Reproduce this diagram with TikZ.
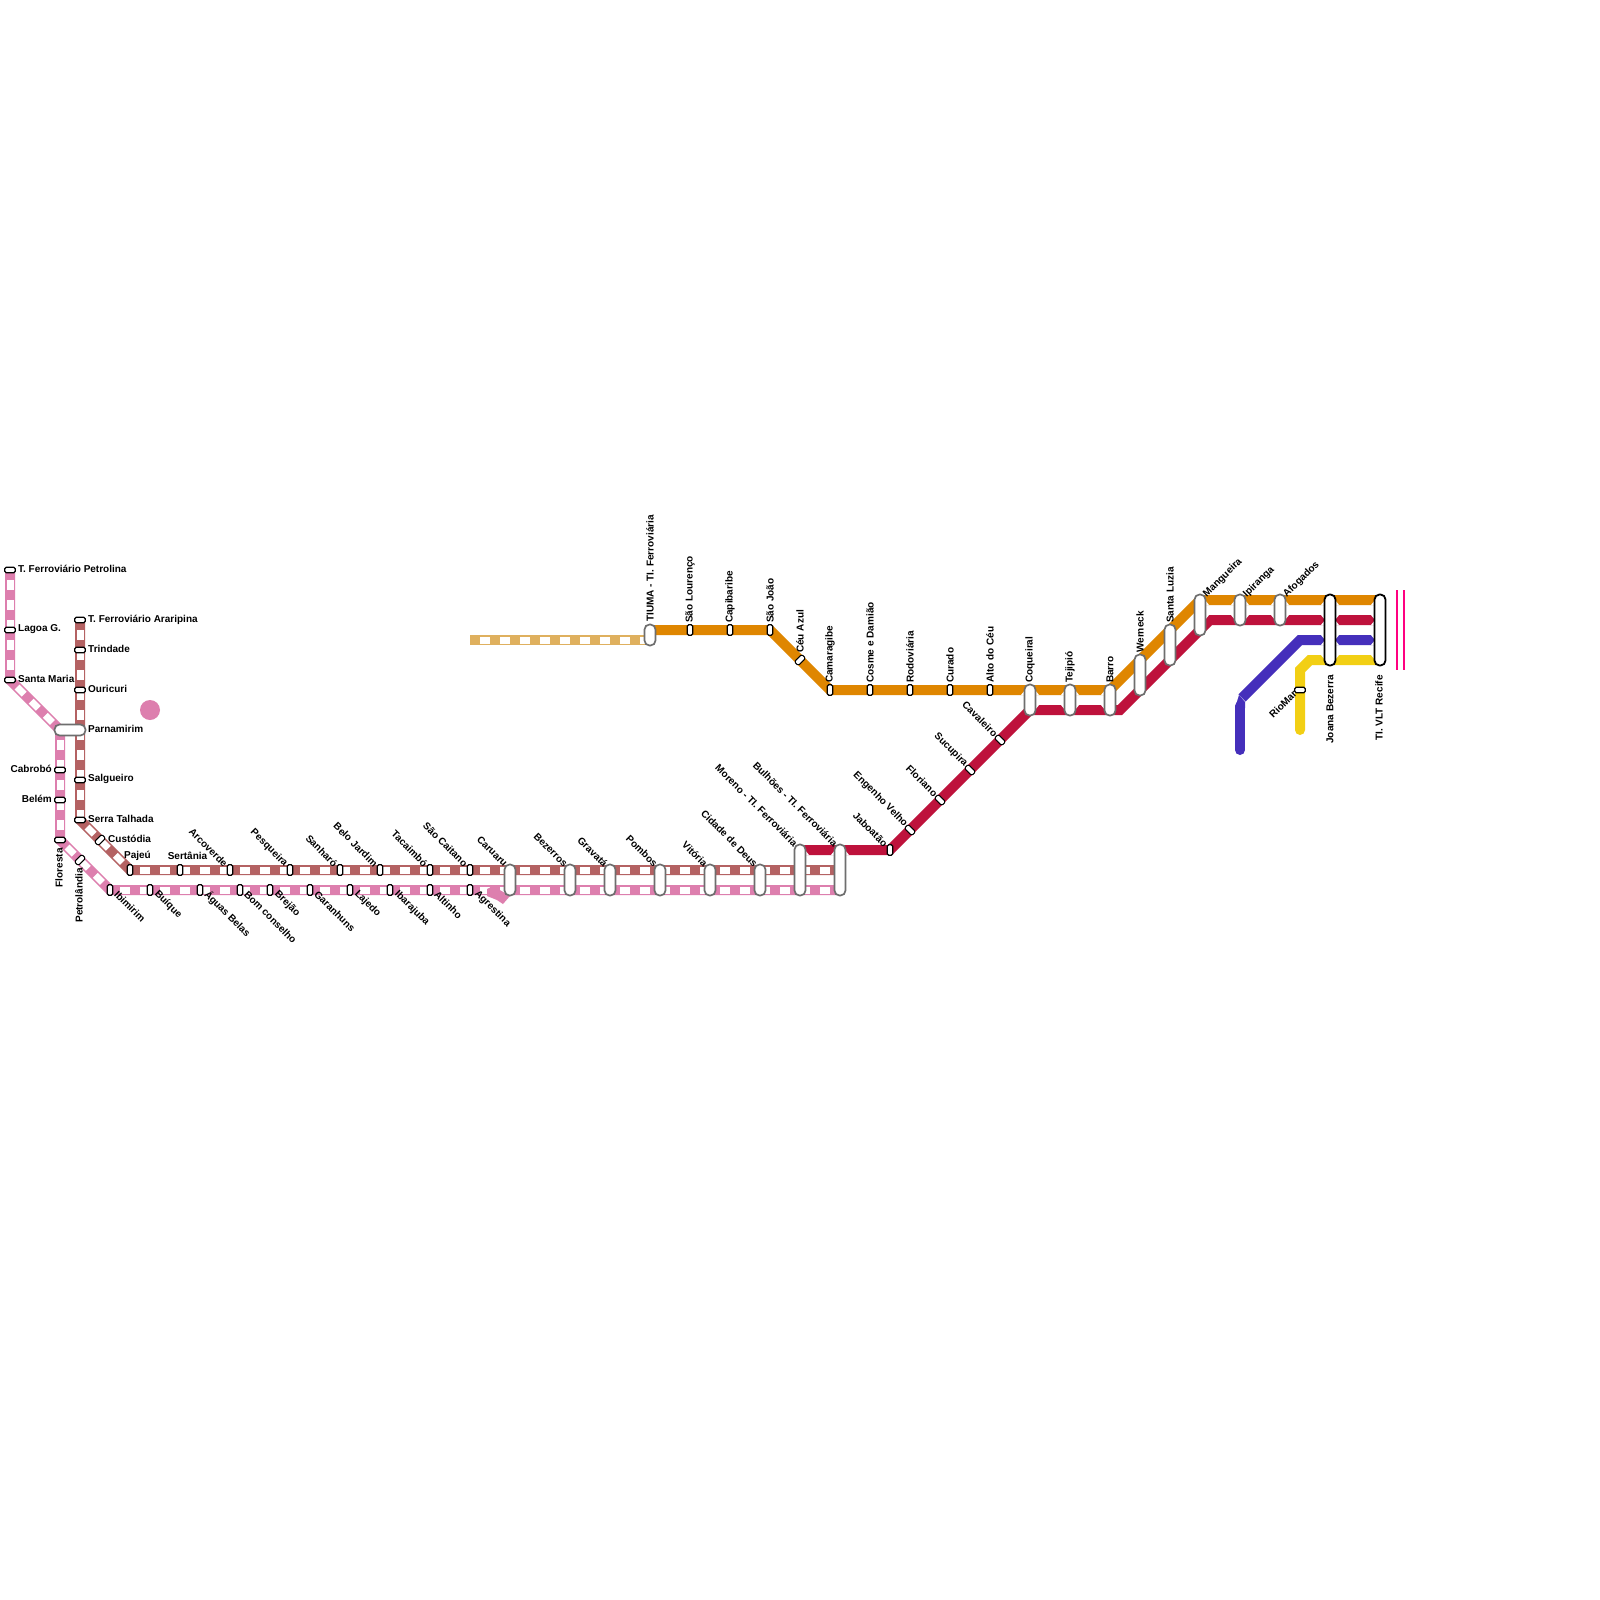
\documentclass[tikz,border=0pt]{standalone}
\usepackage{fontspec}
\setmainfont{Liberation Sans}
\definecolor{cpink}{HTML}{DD7FAE}
\definecolor{cbrown}{HTML}{B46263}
\definecolor{ctan}{HTML}{DFB05E}
\definecolor{corange}{HTML}{DF8600}
\definecolor{cred}{HTML}{BE123C}
\definecolor{cblue}{HTML}{452FBB}
\definecolor{cyellow}{HTML}{F2CF14}
\definecolor{cmag}{HTML}{FF0080}
\definecolor{cgrey}{HTML}{6E6E6E}
\tikzset{
 track/.style={line width=10pt,line cap=butt,line join=miter,miter limit=10},
 dashin/.style={line width=7pt,white,line cap=butt,dash pattern=on 10pt off 10pt,dash phase=10pt},
 stv/.style={draw=black,fill=white,line width=1.1pt,rounded corners=1.5pt,minimum width=5.5pt,minimum height=10.5pt,inner sep=0pt},
 sth/.style={draw=black,fill=white,line width=1.1pt,rounded corners=1.5pt,minimum width=10.5pt,minimum height=5.5pt,inner sep=0pt},
 pill/.style={draw=cgrey,fill=white,line width=1.7pt,rounded corners=5pt,minimum width=11pt,inner sep=0pt},
 bigpill/.style={draw=black,fill=white,line width=1.8pt,rounded corners=5pt,minimum width=11pt,minimum height=71pt,inner sep=0pt},
 lab/.style={font=\bfseries\fontsize{10}{12}\selectfont,inner sep=0pt,text=black},
 chamf/.style={fill=white,draw=none}
}
\newcommand{\chm}[4]{% x, edge y, apex y, side sign
 \fill[chamf] (#1+#4*5,#2) -- (#1+#4*9,#2) -- (#1+#4*5,#3) -- cycle;}
\begin{document}
\begin{tikzpicture}[x=1pt,y=-1pt]
\path[use as bounding box,fill=white] (0,0) rectangle (1600,1600);
% way-points
\coordinate (petrolina) at (10,570);
\coordinate (lagoa) at (10,630);
\coordinate (stamaria) at (10,680);
\coordinate (pjn) at (60,730);
\coordinate (floresta) at (60,840);
\coordinate (ibimirim) at (110,890);
\coordinate (pinkend) at (840,890);
\coordinate (araripina) at (80,620);
\coordinate (serra) at (80,820);
\coordinate (pajeu) at (130,870);
\coordinate (brownend) at (835,870);
\coordinate (tanstart) at (470,640);
\coordinate (tanend) at (650,640);
\coordinate (tiuma) at (650,630);
\coordinate (saojoao) at (770,630);
\coordinate (camaragibe) at (830,690);
\coordinate (barroA) at (1110,690);
\coordinate (mangA) at (1200,600);
\coordinate (vltA) at (1380,600);
\coordinate (moreno) at (800,850);
\coordinate (jaboatao) at (890,850);
\coordinate (coqB) at (1030,710);
\coordinate (barroB) at (1120,710);
\coordinate (mangB) at (1210,620);
\coordinate (vltB) at (1380,620);
\coordinate (blueS) at (1240,750);
\coordinate (blueT) at (1240,706);
\coordinate (blueD) at (1242,698);
\coordinate (blueK) at (1300,640);
\coordinate (blueE) at (1378,640);
\coordinate (yelS) at (1300,730);
\coordinate (yelK) at (1300,670);
\coordinate (yelL) at (1310,660);
\coordinate (yelE) at (1378,660);
\coordinate (magA) at (1396.5,590);
\coordinate (magB) at (1396.5,670);
\coordinate (magC) at (1404,590);
\coordinate (magD) at (1404,670);
% pink and brown lines
\draw[track,cbrown] (araripina) -- (serra) -- (pajeu) -- (brownend);
\draw[dashin] (araripina) -- (serra);
\draw[dashin] (serra) -- (pajeu);
\draw[dashin] (pajeu) -- (brownend);
\draw[track,cpink] (petrolina) -- (stamaria) -- (pjn) -- (floresta) -- (ibimirim) -- (pinkend);
\draw[dashin] (petrolina) -- (stamaria);
\draw[dashin] (stamaria) -- (pjn);
\draw[dashin] (pjn) -- (floresta);
\draw[dashin] (floresta) -- (ibimirim);
\draw[dashin] (ibimirim) -- (pinkend);
\fill[cpink] (487,889) -- (493,886) -- (510,896) -- (503,904) -- (497,900) -- (487,896) -- cycle;
\node[circle,fill=cpink,minimum size=20pt,inner sep=0pt] (dot) at (150,710) {};
% tan
\draw[track,ctan] (tanstart) -- (tanend);
\draw[dashin] (tanstart) -- (tanend);
% orange, red, blue, yellow
\draw[track,corange] (tiuma) -- (saojoao) -- (camaragibe) -- (barroA) -- (mangA) -- (vltA);
\draw[track,cred] (moreno) -- (jaboatao) -- (coqB) -- (barroB) -- (mangB) -- (vltB);
\draw[line width=10pt,cblue,line cap=round] (blueS) -- (blueT);
\fill[cblue] (1235,708) -- (1239,695) -- (1245,702) -- (1245,708) -- cycle;
\draw[track,cblue] (blueD) -- (blueK) -- (blueE);
\draw[line width=10pt,cyellow,line cap=round,line join=miter] (yelS) -- (yelK) -- (yelL) -- (yelE);
\draw[line width=2pt,cmag] (magA) -- (magB);
\draw[line width=2pt,cmag] (magC) -- (magD);
% chamfers beside the pills
\foreach \x/\s in {1030/-1,1030/1,1070/-1,1070/1,1110/-1}{\chm{\x}{695}{690}{\s}}
\foreach \x/\s in {1030/1,1070/-1,1070/1,1110/-1}{\chm{\x}{705}{710}{\s}}
\foreach \x/\s in {1200/1,1240/-1,1240/1,1280/-1,1280/1,1330/-1,1330/1,1380/-1}{\chm{\x}{605}{600}{\s}\chm{\x}{615}{620}{\s}}
\foreach \x/\s in {1330/-1,1330/1,1380/-1}{\chm{\x}{625}{620}{\s}\chm{\x}{635}{640}{\s}\chm{\x}{645}{640}{\s}\chm{\x}{655}{660}{\s}}
\foreach \x/\s in {800/1,840/-1,840/1}{\chm{\x}{855}{850}{\s}}
% stations on the left branches
\foreach \n/\x/\y in {s1/10/570,s2/10/630,s3/10/680,s4/80/620,s5/80/650,s6/80/690,s7/80/780,s8/80/820,s9/60/770,s10/60/800,s11/60/840,s12/1300/690}
 \node[sth] (\n) at (\x,\y) {};
\node[pill,minimum width=31pt,minimum height=11pt] (parnamirim) at (70,730) {};
\foreach \n/\x/\y in {v1/130/870,v2/180/870,v3/230/870,v4/290/870,v5/340/870,v6/380/870,v7/430/870,v8/470/870,
 v9/110/890,v10/150/890,v11/200/890,v12/240/890,v13/270/890,v14/310/890,v15/350/890,v16/390/890,v17/430/890,v18/470/890,
 v19/690/630,v20/730/630,v21/770/630,v22/830/690,v23/870/690,v24/910/690,v25/950/690,v26/990/690,v27/890/850}
 \node[stv] (\n) at (\x,\y) {};
\foreach \n/\x/\y in {d1/100/840,d2/80/860,d3/800/660}
 \node[stv,rotate=-45] (\n) at (\x,\y) {};
\foreach \n/\x/\y in {d4/910/830,d5/940/800,d6/970/770,d7/1000/740}
 \node[stv,rotate=45] (\n) at (\x,\y) {};
% pills
\foreach \n/\x/\y/\h in {p1/510/880/31,p2/570/880/31,p3/610/880/31,p4/660/880/31,p5/710/880/31,p6/760/880/31,
 p7/800/870/51,p8/840/870/51,p9/650/635/21,p10/1030/700/31,p11/1070/700/31,p12/1110/700/31,
 p13/1140/675/41,p14/1170/645/41,p15/1200/615/41,p16/1240/610/31,p17/1280/610/31}
 \node[pill,minimum height=\h pt] (\n) at (\x,\y) {};
\node[bigpill] (joana) at (1330,630) {};
\node[bigpill] (vlt) at (1380,630) {};
% labels, horizontal
\foreach \n/\x/\y/\t in {a1/18/569/T. Ferroviário Petrolina,a2/18/629/Lagoa G.,a3/18/679/Santa Maria,a4/88/619.5/T. Ferroviário Araripina,a5/88/649/Trindade,a6/88/689/Ouricuri,a7/88/729/Parnamirim,a8/88/779/Salgueiro,a9/88/819/Serra Talhada,a10/108/839/Custódia}
 \node[lab,anchor=west] (\n) at (\x,\y) {\t};
\node[lab,anchor=east] (a11) at (52,769) {Cabrobó};
\node[lab,anchor=east] (a12) at (52,799) {Belém};
\node[lab] (a13) at (137.5,856) {Pajeú};
\node[lab] (a14) at (187.5,856) {Sertânia};
% labels, rotate 90, ending at the station
\node[lab,rotate=90,anchor=east] (b1) at (59,848) {Floresta};
\node[lab,rotate=90,anchor=east] (b2) at (79,868) {Petrolândia};
\node[lab,rotate=90,anchor=east] (b3) at (1330,675) {Joana Bezerra};
\node[lab,rotate=90,anchor=east] (b4) at (1379,675) {TI. VLT Recife};
% labels, rotate 90, starting at the station
\foreach \n/\x/\y/\t in {c1/650/622/TIUMA - TI. Ferroviária,c2/690/623/São Lourenço,c3/730/623/Capibaribe,c4/770/623/São João,c5/800/653/Céu Azul,c6/830/683/Camaragibe,c7/870/683/Cosme e Damião,c8/910/683/Rodoviária,c9/950/683/Curado,c10/990/683/Alto do Céu,c11/1030/683/Coqueiral,c12/1070/683/Tejipió,c13/1110/683/Barro,c14/1140/653/Werneck,c15/1170/623/Santa Luzia}
 \node[lab,rotate=90,anchor=west] (\n) at (\x,\y) {\t};
% labels, rotate 45
\foreach \n/\x/\y/\t in {e1/1205/596/Mangueira,e2/1245/596/Ipiranga,e3/1285/596/Afogados}
 \node[lab,rotate=45,anchor=west] (\n) at (\x,\y) {\t};
\node[lab,rotate=45,anchor=east] (e4) at (1295,692) {RioMar};
% labels, rotate -45, below the line
\foreach \n/\x/\t in {f1/116/Ibimirim,f2/156/Buíque,f3/206/Águas Belas,f4/246/Bom conselho,f5/276/Brejão,f6/316/Garanhuns,f7/356/Lajedo,f8/396/Ibarajuba,f9/436/Altinho,f10/476/Agrestina}
 \node[lab,rotate=-45,anchor=west] (\n) at (\x,892.5) {\t};
% labels, rotate -45, above the line
\foreach \n/\x/\y/\t in {g1/226/865/Arcoverde,g2/286/865/Pesqueira,g3/336/865/Sanharó,g4/376/865/Belo Jardim,g5/426/865/Tacaimbó,g6/466/865/São Caitano,g7/506/865/Caruaru,g8/566/865/Bezerros,g9/606/865/Gravatá,g10/656/865/Pombos,g11/706/865/Vitória,g12/756/865/Cidade de Deus,g13/796/845/Moreno - TI. Ferroviária,g14/836/845/Bulhões - TI. Ferroviária,g15/886/845/Jaboatão,g16/906/825/Engenho Velho,g17/936/795/Floriano,g18/966/765/Sucupira,g19/996/735/Cavaleiro}
 \node[lab,rotate=-45,anchor=east] (\n) at (\x,\y) {\t};
\end{tikzpicture}
\end{document}
